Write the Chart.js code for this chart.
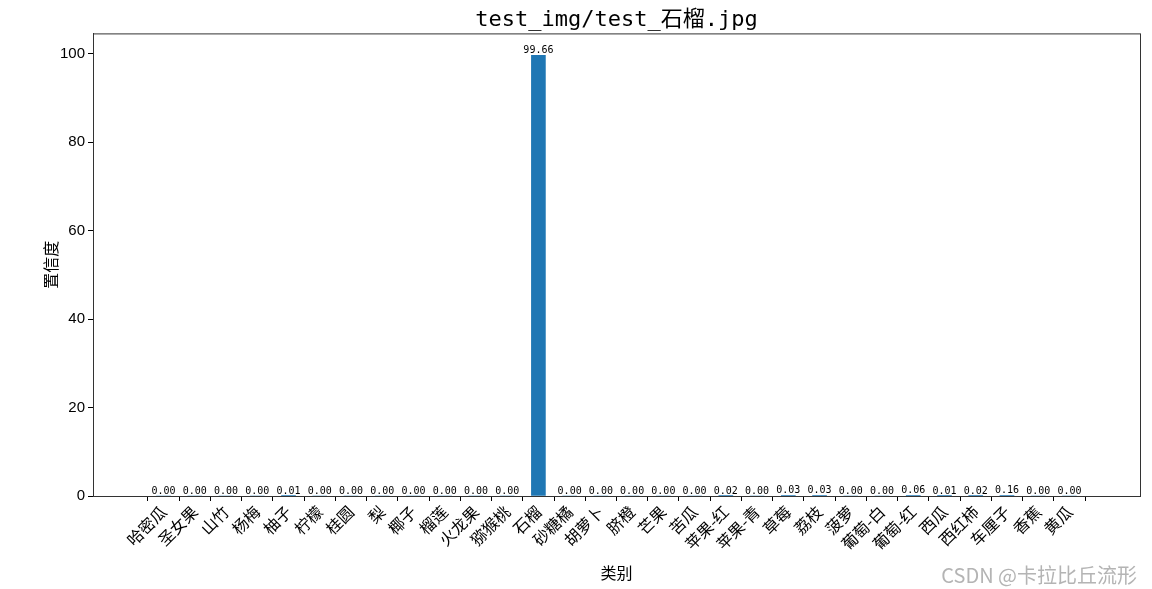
<!DOCTYPE html>
<html>
<head>
<meta charset="utf-8">
<script src="https://cdn.jsdelivr.net/npm/chart.js@4"></script>
<style>
    html, body { margin: 0; padding: 0; background: #ffffff; }
    #wrap { width: 1152px; height: 589px; position: relative; }
</style>
</head>
<body>
<div id="wrap"><canvas id="conf-chart"></canvas></div>
<script>
const categories = ["哈密瓜","圣女果","山竹","杨梅","柚子","柠檬","桂圆","梨","椰子","榴莲",
    "火龙果","猕猴桃","石榴","砂糖橘","胡萝卜","脐橙","芒果","苦瓜","苹果-红","苹果-青",
    "草莓","荔枝","菠萝","葡萄-白","葡萄-红","西瓜","西红柿","车厘子","香蕉","黄瓜"]
const confidence = [0.00,0.00,0.00,0.00,0.01,0.00,0.00,0.00,0.00,0.00,
    0.00,0.00,99.66,0.00,0.00,0.00,0.00,0.00,0.02,0.00,
    0.03,0.03,0.00,0.00,0.06,0.01,0.02,0.16,0.00,0.00]
const yTicks = [0, 20, 40, 60, 80, 100]

const cjk = "'Noto Sans CJK SC', sans-serif"
const mono = "'DejaVu Sans Mono', 'Noto Sans CJK SC', monospace"

// value labels on top of each bar + the frame + watermark
const extras = {
    id: 'extras',
    afterDatasetsDraw(chart) {
        const ctx = chart.ctx
        const area = chart.chartArea
        ctx.save()
        ctx.strokeStyle = '#333333'
        ctx.lineWidth = 1
        ctx.strokeRect(area.left + 0.5, area.top + 0.5, area.right - area.left, area.bottom - area.top)
        ctx.fillStyle = '#000000'
        ctx.font = "10px " + mono
        ctx.textAlign = 'center'
        ctx.textBaseline = 'bottom'
        chart.getDatasetMeta(0).data.forEach((bar, i) => {
            ctx.fillText(confidence[i].toFixed(2), bar.x, bar.y)
        })
        ctx.restore()
    },
    afterDraw(chart) {
        const ctx = chart.ctx
        ctx.save()
        ctx.fillStyle = '#b4b4b4'
        ctx.font = "20px " + cjk
        ctx.textAlign = 'right'
        ctx.textBaseline = 'middle'
        ctx.fillText('CSDN @卡拉比丘流形', chart.width - 15, chart.height - 14)
        ctx.restore()
    }
}

let confChart = new Chart(document.getElementById("conf-chart"), {
    type: 'bar',
    data: {
        datasets: [
            {
                label: '置信度',
                backgroundColor: '#1f77b4',
                barThickness: 14,
                data: confidence.map((v, i) => ({x: i, y: v}))
            }
        ]
    },
    options: {
        responsive: true,
        maintainAspectRatio: false,
        animation: false,
        layout: {
            padding: { left: 0, right: 12, top: 0, bottom: 0 }
        },
        plugins: {
            legend: { display: false },
            tooltip: { enabled: false },
            title: {
                display: true,
                fullSize: false,
                text: 'test_img/test_石榴.jpg',
                color: '#000000',
                font: { size: 22, family: mono, weight: 'normal', lineHeight: 1.2 },
                padding: { top: 7, bottom: 0 }
            }
        },
        scales: {
            x: {
                type: 'linear',
                min: -1.7,
                max: 30.7,
                afterFit: s => { s.height = 93 },
                afterBuildTicks: s => {
                    s.ticks = categories.map((c, i) => ({value: i}))
                },
                grid: { drawOnChartArea: false, drawTicks: true, tickLength: 5, color: '#000000' },
                border: { color: '#333333' },
                ticks: {
                    autoSkip: false,
                    maxRotation: 45,
                    minRotation: 45,
                    padding: 1,
                    color: '#000000',
                    font: { size: 16, family: cjk },
                    callback: v => categories[v]
                },
                title: {
                    display: true,
                    text: '类别',
                    color: '#000000',
                    font: { size: 16, family: cjk, lineHeight: 1.2 },
                    padding: { top: 0, bottom: 6 }
                }
            },
            y: {
                min: 0,
                max: 104.643,
                afterFit: s => { s.width = 93 },
                afterBuildTicks: s => {
                    s.ticks = yTicks.map(v => ({value: v}))
                },
                grid: { drawOnChartArea: false, drawTicks: true, tickLength: 5, color: '#000000' },
                border: { color: '#333333' },
                ticks: {
                    padding: 3,
                    color: '#000000',
                    font: { size: 15, family: "'Liberation Sans', Arial, sans-serif" }
                },
                title: {
                    display: true,
                    text: '置信度',
                    color: '#000000',
                    font: { size: 16, family: cjk, lineHeight: 1.2 },
                    padding: { top: 41, bottom: 0 }
                }
            }
        }
    },
    plugins: [extras]
})
</script>
</body>
</html>
